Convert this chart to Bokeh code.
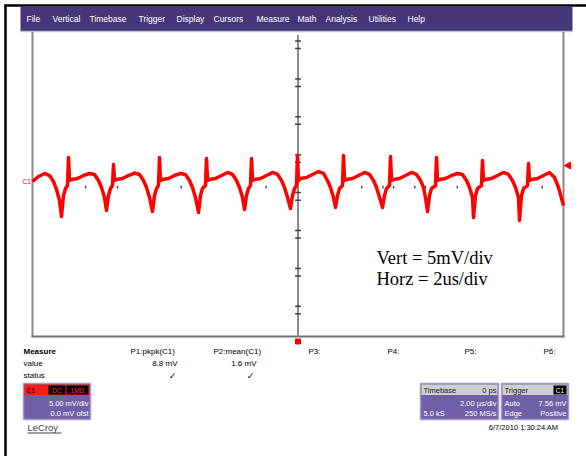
from bokeh.plotting import figure
from bokeh.models import Range1d
from bokeh.embed import file_html
from bokeh.resources import INLINE
from bokeh.core.properties import value

# ---------------- data ----------------
# time in microseconds (2 us/div, 10 div), voltage in mV (5 mV/div, 8 div)
trace_t_us = [
    -10.0, -9.774, -9.548, -9.360, -9.209, -9.096, -8.983,
    -8.908, -8.833, -8.757, -8.682, -8.644, -8.606, -8.531, -8.305, -8.079, -7.853, -7.665, -7.514, -7.401, -7.288,
    -7.213, -7.138, -7.062, -6.987, -6.949, -6.911, -6.836, -6.610, -6.384, -6.158, -5.970, -5.819, -5.706, -5.593,
    -5.480, -5.405, -5.329, -5.255, -5.217, -5.179, -5.104, -4.878, -4.652, -4.426, -4.238, -4.087, -3.974, -3.861,
    -3.748, -3.673, -3.597, -3.484, -3.446, -3.408, -3.333, -3.107, -2.881, -2.655, -2.467, -2.316, -2.203, -2.090,
    -2.015, -1.940, -1.864, -1.789, -1.751, -1.713, -1.638, -1.412, -1.186, -0.960, -0.772, -0.621, -0.508, -0.395,
    -0.282, -0.207, -0.131, -0.057, -0.019, 0.019, 0.094, 0.320, 0.546, 0.772, 0.960, 1.111, 1.224, 1.337,
    1.412, 1.487, 1.563, 1.676, 1.714, 1.752, 1.827, 2.053, 2.279, 2.505, 2.693, 2.844, 2.957, 3.070,
    3.183, 3.258, 3.334, 3.446, 3.484, 3.522, 3.597, 3.823, 4.049, 4.275, 4.463, 4.614, 4.727, 4.800,
    4.878, 4.953, 5.029, 5.179, 5.217, 5.255, 5.330, 5.556, 5.782, 6.008, 6.196, 6.347, 6.460, 6.573,
    6.610, 6.685, 6.761, 6.911, 6.949, 6.987, 7.062, 7.288, 7.514, 7.740, 7.928, 8.079, 8.192, 8.305,
    8.343, 8.418, 8.494, 8.644, 8.682, 8.720, 8.795, 9.021, 9.247, 9.473, 9.661, 9.812, 10.0,
]
trace_v_mV = [
    0.46, 1.12, 1.52, 1.25, 0.46, -0.59, -2.04,
    -4.16, -1.39, -0.46, -0.07, 3.63, 0.59, 0.73, 0.86, 1.25, 1.52, 1.39, 0.59, -0.33, -1.65,
    -3.36, -1.39, -0.46, -0.07, 2.70, 0.59, 0.73, 0.86, 1.25, 1.58, 1.39, 0.59, -0.33, -1.65,
    -3.50, -1.39, -0.46, -0.07, 3.63, 0.59, 0.73, 0.86, 1.25, 1.52, 1.39, 0.59, -0.33, -1.65,
    -3.63, -1.39, -0.46, -0.07, 3.50, 0.59, 0.73, 0.86, 1.25, 1.65, 1.39, 0.59, -0.33, -1.65,
    -3.23, -1.39, -0.46, -0.07, 3.50, 0.59, 0.73, 0.86, 1.25, 1.65, 1.39, 0.59, -0.33, -1.65,
    -3.10, -1.39, -0.46, -0.07, 3.89, 0.59, 0.86, 0.99, 1.38, 1.78, 1.52, 0.59, -0.33, -1.65,
    -2.97, -1.39, -0.46, -0.07, 3.89, 0.59, 0.73, 0.86, 1.25, 1.65, 1.39, 0.59, -0.33, -1.65,
    -2.97, -1.39, -0.46, -0.07, 3.76, 0.59, 0.73, 0.86, 1.25, 1.65, 1.39, 0.59, -0.33, -1.65,
    -3.50, -1.39, -0.46, -0.07, 3.63, 0.59, 0.73, 0.86, 1.25, 1.52, 1.39, 0.59, -0.33, -1.65,
    -4.29, -1.39, -0.46, -0.07, 3.23, 0.59, 0.73, 0.86, 1.25, 1.65, 1.39, 0.59, -0.33, -1.65,
    -4.68, -1.39, -0.46, -0.07, 2.84, 0.59, 0.73, 0.86, 1.25, 1.65, 0.99, -0.33, -2.70,
]
v_ticks_mV = [19, 18, 14, 13, 9, 8, 4, 3, -1, -2, -6, -7, -11, -12, -16, -17]
h_ticks_us = [-8.0, -6.8, -4.4, -3.6, -1.2, 2.4, 3.2, 3.6, 4.4, 4.8, 6.0, 9.2]
t_min_us, t_max_us = -10.0, 10.0
v_min_mV, v_max_mV = -20.0, 20.0

menu_items = ["File", "Vertical", "Timebase", "Trigger", "Display", "Cursors",
              "Measure", "Math", "Analysis", "Utilities", "Help"]
meas_rows = ["Measure", "value", "status"]
meas_params = ["P1:pkpk(C1)", "P2:mean(C1)", "P3:", "P4:", "P5:", "P6:"]
meas_values = ["8.8 mV", "1.6 mV"]
meas_status = ["\u2713", "\u2713"]
scale_lines = ["Vert = 5mV/div", "Horz = 2us/div"]
ch_box_lines = ["5.00 mV/div", "0.0 mV ofst"]
tb_box = ["Timebase", "0 ps", "2.00 \u00b5s/div", "5.0 kS", "250 MS/s"]
tr_box = ["Trigger", "C1", "Auto", "7.56 mV", "Edge", "Positive"]
stamp = "6/7/2010 1:30:24 AM"
brand = "LeCroy"

# ---------------- layout (pixels) ----------------
W, H = 586, 456
X0, Y0 = 297.5, 184.5          # screen centre of the graticule
PX_US, PX_MV = 26.55, 7.58     # pixels per us / per mV


def X(px):
    return (px - X0) / PX_US


def Y(py):
    return (Y0 - py) / PX_MV


p = figure(width=W, height=H, x_range=Range1d(X(0), X(W)), y_range=Range1d(Y(H), Y(0)),
           output_backend="svg", toolbar_location=None, min_border=0,
           x_axis_type=None, y_axis_type=None, outline_line_color=None)
p.background_fill_color = "white"
p.border_fill_color = "white"


def txt(px, py, s, size, color="black", align="left", baseline="middle",
        font="Liberation Sans", style="normal"):
    p.text(x=[X(px)], y=[Y(py)], text=[s], text_font=value(font),
           text_font_size=f"{size}px", text_color=color, text_align=align,
           text_baseline=baseline, text_font_style=style)


def box(l, t, r, b, fill, line=None, lw=1):
    p.quad(left=[X(l)], right=[X(r)], top=[Y(t)], bottom=[Y(b)],
           fill_color=fill, line_color=line, line_width=lw)


def seg(x0, y0, x1, y1, color, lw):
    p.segment(x0=[X(x0)], y0=[Y(y0)], x1=[X(x1)], y1=[Y(y1)], line_color=color, line_width=lw)


# page border (document frame)
seg(4, 5, 586, 5, "black", 2.5)
seg(5, 4, 5, 456, "black", 2.5)

# menu bar
box(20, 6, 572, 30.5, "#453777")
seg(20, 31, 572, 31, "#c4c0dc", 1.5)
menu_x = [26, 52, 89, 138, 176, 213, 256, 297, 325, 368, 407]
for mx, item in zip(menu_x, menu_items):
    txt(mx, 18.5, item, 8.5, color="white")

# graticule frame
gray = "#8a8a8a"
p.segment(x0=[t_min_us, t_max_us], y0=[v_max_mV + 0.2, v_max_mV + 0.2],
          x1=[t_min_us, t_max_us], y1=[v_min_mV, v_min_mV], line_color=gray, line_width=2)
p.segment(x0=[t_min_us - 0.04], y0=[v_min_mV], x1=[t_max_us + 0.04], y1=[v_min_mV],
          line_color="#707070", line_width=2)
# centre vertical axis with minor ticks
p.segment(x0=[0], y0=[v_max_mV - 0.2], x1=[0], y1=[v_min_mV], line_color=gray, line_width=2)
p.segment(x0=[-0.11] * len(v_ticks_mV), y0=v_ticks_mV, x1=[0.11] * len(v_ticks_mV), y1=v_ticks_mV,
          line_color="#404040", line_width=1.5)
# centre horizontal ticks (axis line itself hidden)
p.segment(x0=h_ticks_us, y0=[-0.1] * len(h_ticks_us), x1=h_ticks_us, y1=[-0.45] * len(h_ticks_us),
          line_color="#505050", line_width=1.5)

# waveform
p.line(trace_t_us, trace_v_mV, line_color="#ff0000", line_width=3.5, line_join="round")

# markers
p.scatter([0], [Y(341)], marker="square", size=5, color="#ff0000")
p.scatter([X(568)], [Y(165)], marker="triangle", angle=1.5708, size=7, color="#ff0000")
txt(22, 181, "C1", 6.5, color="#ff0000")

# scale annotation
txt(376, 257, scale_lines[0], 18.5, font="Liberation Serif", baseline="alphabetic")
txt(376, 278, scale_lines[1], 18.5, font="Liberation Serif", baseline="alphabetic")

# measurement table
row_y = [351, 363, 375]
txt(23, row_y[0], meas_rows[0], 8, style="bold")
txt(23, row_y[1], meas_rows[1], 8)
txt(23, row_y[2], meas_rows[2], 8)
param_x = [130, 213, 308, 387, 464, 543]
for px_, s in zip(param_x, meas_params):
    txt(px_, row_y[0], s, 8)
val_right = [177, 256]
for vx, s in zip(val_right, meas_values):
    txt(vx, row_y[1], s, 8, align="right")
for vx, s in zip([172, 250], meas_status):
    txt(vx, row_y[2] + 0.5, s, 9, align="center", font="DejaVu Sans")

# channel box
box(23, 383, 90, 419, "#6e5fa6", line="#a39ad0", lw=1.5)
box(24, 384, 89, 394.5, "#ff1a1a")
txt(26, 389.5, "C1", 6.5, color="#400000", style="bold")
box(48, 385, 65, 394, "black")
box(66, 385, 88, 394, "black")
txt(56.5, 389.5, "DC", 6.5, color="#ff3030", align="center")
txt(77, 389.5, "1M\u03a9", 6.5, color="#ff3030", align="center")
txt(88, 403, ch_box_lines[0], 7.5, color="white", align="right")
txt(88, 413, ch_box_lines[1], 7.5, color="white", align="right")

# timebase box
box(420, 383, 498, 419, "#6e5fa6", line="#a39ad0", lw=1.5)
box(421, 384, 497, 394.5, "#cfcfcf")
txt(423, 389.5, tb_box[0], 7.5, color="#202020")
txt(496, 389.5, tb_box[1], 7.5, color="#202020", align="right")
txt(496, 403, tb_box[2], 7.5, color="white", align="right")
txt(423, 413, tb_box[3], 7.5, color="white")
txt(496, 413, tb_box[4], 7.5, color="white", align="right")

# trigger box
box(501, 383, 568, 419, "#6e5fa6", line="#a39ad0", lw=1.5)
box(502, 384, 567, 394.5, "#cfcfcf")
txt(504, 389.5, tr_box[0], 7.5, color="#202020")
box(553, 385, 566, 394, "black")
txt(559.5, 389.5, tr_box[1], 6.5, color="white", align="center")
txt(504, 403, tr_box[2], 7.5, color="white")
txt(566, 403, tr_box[3], 7.5, color="white", align="right")
txt(504, 413, tr_box[4], 7.5, color="white")
txt(566, 413, tr_box[5], 7.5, color="white", align="right")

# footer
txt(558, 427, stamp, 7.5, align="right")
txt(27, 427, brand, 9.5, color="#404040")
seg(27, 432.5, 61, 432.5, "#404040", 1)

open("out.html", "w").write(file_html(p, INLINE))
